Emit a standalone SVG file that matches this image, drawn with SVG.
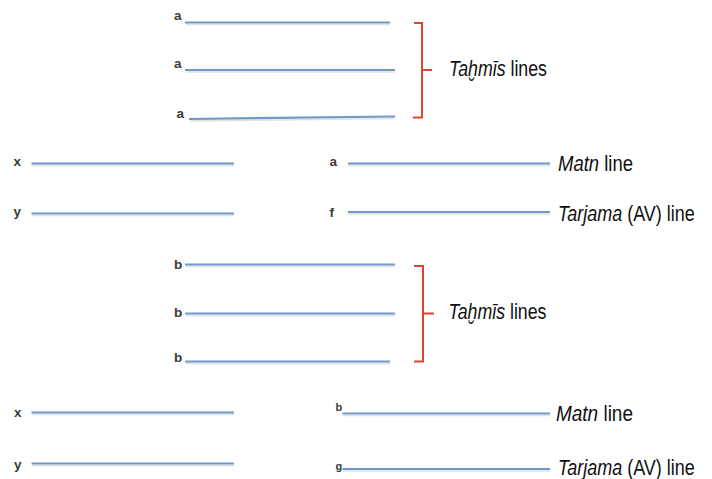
<svg xmlns="http://www.w3.org/2000/svg" width="712" height="479" viewBox="0 0 712 479">
  <style>
    .bg { fill: #ffffff; }
    .rule { stroke: #7097c8; stroke-width: 2.2; stroke-linecap: butt; fill: none; }
    .shadow { stroke: #dde1e7; stroke-width: 1.5; fill: none; }
    .brace { stroke: #df4331; stroke-width: 2; fill: none; stroke-linejoin: miter; }
    .tag { font-family: "Liberation Sans", Arial, sans-serif; font-size: 13.5px; font-weight: bold; fill: #3a3a3a; }
    .tag-sm { font-family: "Liberation Sans", Arial, sans-serif; font-size: 11px; font-weight: bold; fill: #3a3a3a; }
    .cap { font-family: "Liberation Sans", Arial, sans-serif; font-size: 22px; fill: #111111; }
    .it { font-style: italic; }
  </style>

  <rect class="bg" x="0" y="0" width="712" height="479"/>

  <!-- first block of repeated lines -->
  <g id="row-a1">
    <line class="shadow" x1="186" y1="24.5" x2="390" y2="24.5"/>
    <line class="rule" x1="185" y1="22.5" x2="390" y2="22.5"/>
    <text class="tag" x="174" y="20">a</text>
  </g>
  <g id="row-a2">
    <line class="shadow" x1="186" y1="72" x2="395" y2="72"/>
    <line class="rule" x1="185" y1="70" x2="395" y2="70"/>
    <text class="tag" x="174" y="68">a</text>
  </g>
  <g id="row-a3">
    <line class="shadow" x1="190" y1="121" x2="395" y2="118.5"/>
    <line class="rule" x1="189" y1="119" x2="395" y2="116.5"/>
    <text class="tag" x="176.5" y="118">a</text>
  </g>

  <!-- first pair of base lines -->
  <g id="row-x1">
    <line class="shadow" x1="32" y1="165.5" x2="234" y2="165.5"/>
    <line class="rule" x1="31.5" y1="163.5" x2="234" y2="163.5"/>
    <text class="tag" x="13.5" y="165.5">x</text>
  </g>
  <g id="row-y1">
    <line class="shadow" x1="32" y1="215.5" x2="234" y2="215.5"/>
    <line class="rule" x1="31.5" y1="213.5" x2="234" y2="213.5"/>
    <text class="tag" x="13.5" y="216">y</text>
  </g>
  <g id="row-matn1">
    <line class="shadow" x1="348" y1="165.5" x2="550" y2="165.5"/>
    <line class="rule" x1="348" y1="163.5" x2="550" y2="163.5"/>
    <text class="tag" x="329.5" y="166">a</text>
    <text class="cap" transform="translate(558 171) scale(0.84 1)" x="0" y="0" textLength="89.3" lengthAdjust="spacingAndGlyphs"><tspan class="it">Matn</tspan> line</text>
  </g>
  <g id="row-tarjama1">
    <line class="shadow" x1="348" y1="214" x2="550" y2="214"/>
    <line class="rule" x1="348" y1="212" x2="550" y2="212"/>
    <text class="tag" x="329.5" y="216.5">f</text>
    <text class="cap" transform="translate(558 220.5) scale(0.8 1)" x="0" y="0" textLength="171" lengthAdjust="spacingAndGlyphs"><tspan class="it">Tarjama</tspan> (AV) line</text>
  </g>

  <!-- second block of repeated lines -->
  <g id="row-b1">
    <line class="shadow" x1="186" y1="266.5" x2="395" y2="266.5"/>
    <line class="rule" x1="185" y1="264.5" x2="395" y2="264.5"/>
    <text class="tag" x="174" y="269">b</text>
  </g>
  <g id="row-b2">
    <line class="shadow" x1="186" y1="315.5" x2="395" y2="315.5"/>
    <line class="rule" x1="185" y1="313.5" x2="395" y2="313.5"/>
    <text class="tag" x="174" y="316.5">b</text>
  </g>
  <g id="row-b3">
    <line class="shadow" x1="186" y1="363.5" x2="390" y2="363.5"/>
    <line class="rule" x1="185" y1="361.5" x2="390" y2="361.5"/>
    <text class="tag" x="174" y="362">b</text>
  </g>

  <!-- second pair of base lines -->
  <g id="row-x2">
    <line class="shadow" x1="32" y1="414.5" x2="234" y2="414.5"/>
    <line class="rule" x1="31.5" y1="412.5" x2="234" y2="412.5"/>
    <text class="tag" x="14" y="416.5">x</text>
  </g>
  <g id="row-y2">
    <line class="shadow" x1="32" y1="465.5" x2="234" y2="465.5"/>
    <line class="rule" x1="31.5" y1="463.5" x2="234" y2="463.5"/>
    <text class="tag" x="14" y="469">y</text>
  </g>
  <g id="row-matn2">
    <line class="shadow" x1="343" y1="415.5" x2="550" y2="415.5"/>
    <line class="rule" x1="342.5" y1="413.5" x2="550" y2="413.5"/>
    <text class="tag-sm" x="335.5" y="411">b</text>
    <text class="cap" transform="translate(556 421) scale(0.84 1)" x="0" y="0" textLength="91.6" lengthAdjust="spacingAndGlyphs"><tspan class="it">Matn</tspan> line</text>
  </g>
  <g id="row-tarjama2">
    <line class="shadow" x1="343" y1="471" x2="550" y2="471"/>
    <line class="rule" x1="342.5" y1="469" x2="550" y2="469"/>
    <text class="tag-sm" x="335.5" y="470">g</text>
    <text class="cap" transform="translate(558 475) scale(0.8 1)" x="0" y="0" textLength="171" lengthAdjust="spacingAndGlyphs"><tspan class="it">Tarjama</tspan> (AV) line</text>
  </g>

  <!-- braces grouping the repeated lines -->
  <g id="connectors">
    <path class="brace" d="M414 23 H422 V117.5 H413 M422 70 H432"/>
    <path class="brace" d="M414 266 H423 V361.5 H414 M423 313.5 H434"/>
  </g>

  <g id="label-tahmis1">
    <text class="cap" transform="translate(449 76) scale(0.8 1)" x="0" y="0" textLength="122.5" lengthAdjust="spacingAndGlyphs"><tspan class="it">Taḫmīs</tspan> lines</text>
  </g>
  <g id="label-tahmis2">
    <text class="cap" transform="translate(448.5 318.5) scale(0.8 1)" x="0" y="0" textLength="122.5" lengthAdjust="spacingAndGlyphs"><tspan class="it">Taḫmīs</tspan> lines</text>
  </g>
</svg>
